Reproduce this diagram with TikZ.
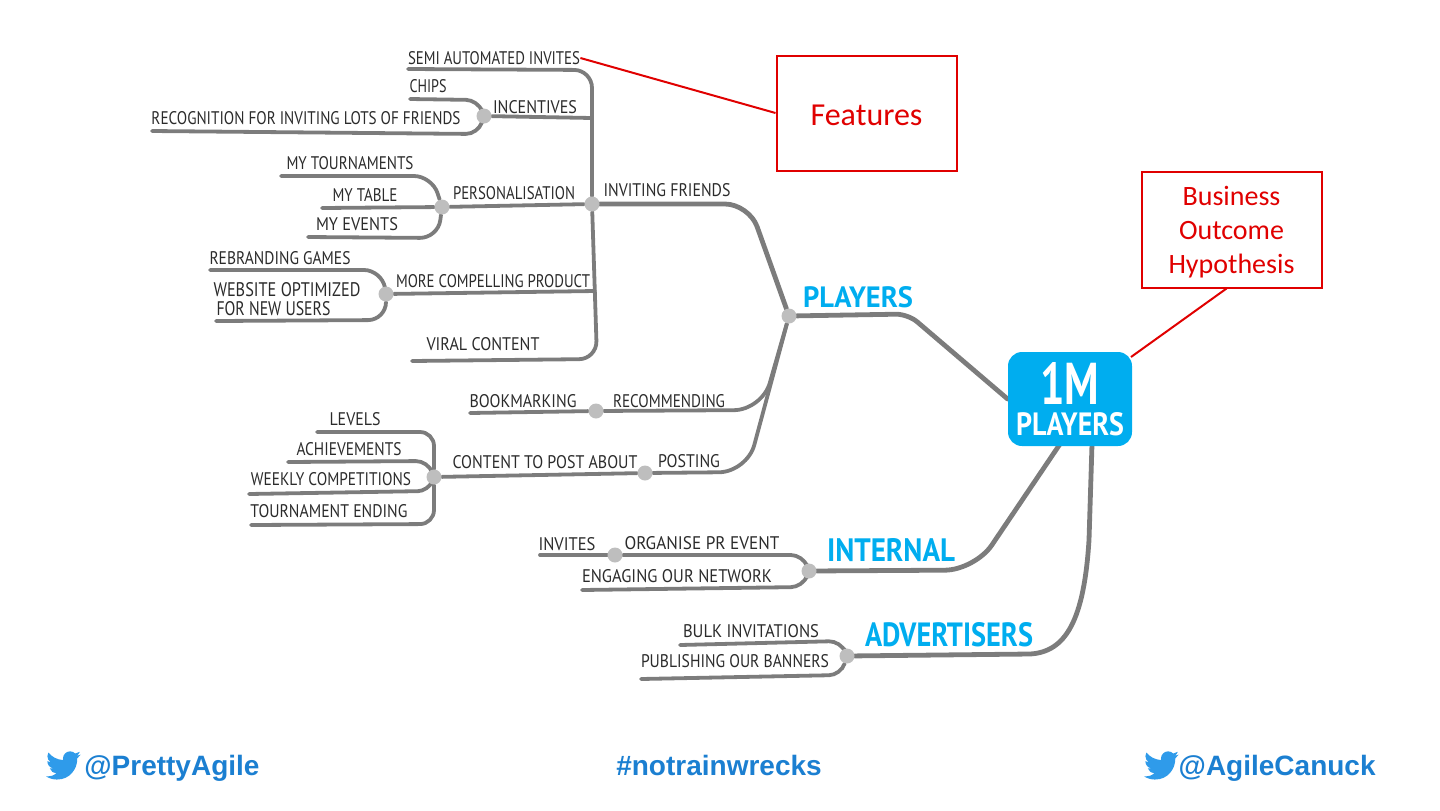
\documentclass[tikz,border=0pt]{standalone}
\usepackage{graphicx}
\usepackage{fontspec}
\usetikzlibrary{backgrounds}
\newfontfamily\handfont{PT Sans}
\newfontfamily\calloutfont{Carlito}
\newfontfamily\footfont{Liberation Sans}
\definecolor{limbgrey}{HTML}{7C7C7C}
\definecolor{dotgrey}{HTML}{BEBEBE}
\definecolor{inkgrey}{HTML}{2B2B2B}
\definecolor{hubblue}{HTML}{00ADEF}
\definecolor{footblue}{HTML}{1B7FD1}
\definecolor{birdblue}{HTML}{2F9BEA}
\definecolor{calloutred}{HTML}{E00000}
% squeeze a text to a given width and height
\newcommand{\hand}[3]{\resizebox{#1pt}{#2pt}{#3}}
\tikzset{
  lbl/.style={inner sep=0pt, text=inkgrey, font=\handfont, align=center},
  toplbl/.style={inner sep=0pt, text=hubblue, font=\handfont\bfseries},
  dot/.style={circle, fill=dotgrey, minimum size=7.5pt, inner sep=0pt},
  limb/.style={draw=limbgrey, line width=1.9pt, line cap=round, rounded corners=9pt},
  mainlimb/.style={limb, line width=2.4pt, rounded corners=12pt},
  hub/.style={fill=hubblue, rounded corners=7pt, minimum width=62pt, minimum height=47pt,
    inner sep=0pt, text=white, align=center, font=\handfont\bfseries\fontsize{7}{8}\selectfont},
  callout/.style={draw=calloutred, line width=1pt, fill=white, minimum width=90pt, inner sep=0pt,
    text=calloutred, align=center, font=\calloutfont},
  calloutline/.style={draw=calloutred, line width=1pt},
  foot/.style={inner sep=0pt, text=footblue, font=\footfont\bfseries\fontsize{14}{17}\selectfont},
  twbird/.pic={
    \fill[birdblue] (23.95,4.57) .. controls (23.1,4.95) and (22.1,5.2) .. (21.13,5.35)
      .. controls (22.1,4.75) and (22.95,3.8) .. (23.29,2.62)
      .. controls (22.34,3.18) and (21.29,3.58) .. (20.16,3.81)
      .. controls (19.3,2.85) and (18.05,2.3) .. (16.6,2.3)
      .. controls (13.9,2.3) and (11.7,4.5) .. (11.7,7.2)
      .. controls (11.7,7.6) and (11.75,7.95) .. (11.83,8.3)
      .. controls (7.69,8.1) and (4.07,6.13) .. (1.64,3.16)
      .. controls (1.2,3.9) and (0.97,4.75) .. (0.97,5.64)
      .. controls (0.97,7.35) and (1.84,8.85) .. (3.16,9.73)
      .. controls (2.35,9.7) and (1.6,9.48) .. (0.93,9.12)
      -- (0.93,9.18)
      .. controls (0.93,11.55) and (2.63,13.55) .. (4.88,14)
      .. controls (4.15,14.2) and (3.4,14.23) .. (2.67,14.09)
      .. controls (3.3,16.05) and (5.13,17.45) .. (7.27,17.5)
      .. controls (5.6,18.82) and (3.5,19.6) .. (1.17,19.6)
      .. controls (0.78,19.6) and (0.39,19.58) .. (0,19.54)
      .. controls (2.19,20.93) and (4.77,21.75) .. (7.56,21.75)
      .. controls (16.6,21.75) and (21.55,14.25) .. (21.55,7.76)
      .. controls (21.55,7.55) and (21.55,7.34) .. (21.54,7.13)
      .. controls (22.5,6.44) and (23.33,5.57) .. cycle;
  }
}
\begin{document}
\begin{tikzpicture}[x=0.5pt, y=-0.5pt]
  \useasboundingbox (0,0) rectangle (1440,810);

  % Hub and the branch dots
  \node[hub] (hub) at (1070,399) {\hand{29.5}{21}{1M}\\[3pt]\hand{54}{11.5}{PLAYERS}};
  \foreach \nm/\xp/\yp in {dotPlayers/789/316, dotInvite/592/204, dotIncent/484/116, dotPerson/442/207,
      dotProduct/386/294, dotRecom/596/411, dotPost/645/473, dotContent/434/477,
      dotInternal/809/571, dotEvent/615/555, dotAdvert/847/656} {
    \node[dot] (\nm) at (\xp,\yp) {};
  }

  % Free ends of the branches
  \foreach \nm/\xp/\yp in {endSemi/408/69, endViral/412/361, endChips/410/99, endFriends/152/131,
      endTourn/281/176, endTable/322/208, endEvents/308/237, endRebrand/210/270, endWebsite/216/321,
      endBook/470/413, endLevels/317/432, endAchieve/288/462, endWeekly/249/494, endEnding/251/525,
      endInvites/540/555, endEngage/582/590, endBulk/680/645, endPublish/641/679,
      hubInternal/1060/444, hubAdvert/1092/444, hubCorner/1131/357} {
    \coordinate (\nm) at (\xp,\yp);
  }

  % Texts of the map
  \foreach \nm/\xp/\yp/\wdt/\txt in {
      lblSemi/494/58/86/SEMI AUTOMATED INVITES,
      lblChips/428/86/18.5/CHIPS,
      lblIncent/535/107/42/INCENTIVES,
      lblFriends/306/118/154.5/RECOGNITION FOR INVITING LOTS OF FRIENDS,
      lblTourn/350/163/63.5/MY TOURNAMENTS,
      lblTable/365/195/32.5/MY TABLE,
      lblEvents/357/224/41/MY EVENTS,
      lblPerson/514/193/61/PERSONALISATION,
      lblInvite/667/190/63.5/INVITING FRIENDS,
      lblRebrand/280/258/70.5/REBRANDING GAMES,
      lblProduct/493/281/97/MORE COMPELLING PRODUCT,
      lblViral/483/344/56.5/VIRAL CONTENT,
      lblBook/523/401/53.5/BOOKMARKING,
      lblRecom/669/401/56/RECOMMENDING,
      lblLevels/355/419/25.5/LEVELS,
      lblAchieve/349/449/52.5/ACHIEVEMENTS,
      lblWeekly/331/479/80/WEEKLY COMPETITIONS,
      lblEnding/329/511/78.5/TOURNAMENT ENDING,
      lblContent/545/462/92.5/CONTENT TO POST ABOUT,
      lblPost/689/461/31/POSTING,
      lblInvites/567/544/28.5/INVITES,
      lblEvent/702/543/77.5/ORGANISE PR EVENT,
      lblEngage/677/576/95/ENGAGING OUR NETWORK,
      lblBulk/751/631/68/BULK INVITATIONS,
      lblPublish/735/661/94/PUBLISHING OUR BANNERS} {
    \node[lbl] (\nm) at (\xp,\yp) {\hand{\wdt}{6.5}{\txt}};
  }
  \node[lbl, align=left] (lblWebsite) at (287,299) {\hand{73.5}{7}{WEBSITE OPTIMIZED}\\[-2.5pt]\hspace{1.5pt}\hand{57}{7}{FOR NEW USERS}};

  % Blue headings
  \node[toplbl] (lblPlayers) at (858,297) {\hand{55}{10.5}{PLAYERS}};
  \node[toplbl] (lblInternal) at (891,550) {\hand{64}{11.5}{INTERNAL}};
  \node[toplbl] (lblAdvert) at (949,635) {\hand{84}{12}{ADVERTISERS}};

  % Branches go behind the dots
  \begin{pgfonlayer}{background}
    \draw[mainlimb, rounded corners=6pt] (hub.west) -- (908,314) -- (dotPlayers);
    \draw[mainlimb, rounded corners=15pt] (hubInternal) -- (975,570) -- (dotInternal);
    \draw[mainlimb, sharp corners] (hubAdvert) -- (1089,540) .. controls (1084,620) and (1066,652) .. (1030,654) -- (dotAdvert);
    \draw[mainlimb] (dotPlayers) -- (749,204) -- (dotInvite);
    \draw[limb, rounded corners=14pt] (dotPlayers) -- (762,410) -- (dotRecom);
    \draw[limb, rounded corners=14pt] (dotPlayers) -- (747,472) -- (dotPost);
    \draw[limb] (dotRecom) -- (endBook);
    \draw[limb] (dotPost) -- (dotContent);
    % the upright stem
    \draw[limb] (endSemi) -- (592,70) -- (dotInvite);
    \draw[limb] (dotInvite) -- (597,359) -- (endViral);
    \draw[limb] (dotIncent) -- (592,118);
    \draw[limb] (dotPerson) -- (dotInvite);
    \draw[limb] (dotProduct) -- (595,291);
    % leaves
    \draw[limb, rounded corners=6pt] (endChips) -- (478,100) -- (dotIncent);
    \draw[limb, rounded corners=6pt] (endFriends) -- (478,134) -- (dotIncent);
    \draw[limb] (endTourn) -- (432,176) -- (dotPerson);
    \draw[limb] (endTable) -- (dotPerson);
    \draw[limb] (endEvents) -- (438,238) -- (dotPerson);
    \draw[limb] (endRebrand) -- (382,270) -- (dotProduct);
    \draw[limb] (endWebsite) -- (386,320) -- (dotProduct);
    \draw[limb, rounded corners=7pt] (endLevels) -- (434,432) -- (dotContent);
    \draw[limb, rounded corners=6pt] (endAchieve) -- (428,461) -- (dotContent);
    \draw[limb, rounded corners=5pt] (endWeekly) -- (428,491) -- (dotContent);
    \draw[limb, rounded corners=7pt] (endEnding) -- (434,524) -- (dotContent);
    \draw[limb] (endInvites) -- (dotEvent);
    \draw[limb, rounded corners=6pt] (dotEvent) -- (803,555) -- (dotInternal);
    \draw[limb, rounded corners=6pt] (endEngage) -- (803,587) -- (dotInternal);
    \draw[limb, rounded corners=6pt] (endBulk) -- (841,641) -- (dotAdvert);
    \draw[limb, rounded corners=6pt] (endPublish) -- (841,675) -- (dotAdvert);
  \end{pgfonlayer}

  % Red callouts
  \node[callout, minimum height=57.5pt, font=\calloutfont\fontsize{16}{19}\selectfont] (features) at (866.5,113)
    {\raisebox{-1pt}[\height][\depth]{Features}};
  \node[callout, minimum height=58pt, font=\calloutfont\fontsize{14}{17}\selectfont] (hypothesis) at (1231.5,229.5)
    {\raisebox{-1.5pt}[\height][\depth]{Business}\\\raisebox{-1.5pt}[\height][\depth]{Outcome}\\\raisebox{-1.5pt}[\height][\depth]{Hypothesis}};
  \draw[calloutline] (features.west) -- (lblSemi.east);
  \draw[calloutline] ([xshift=-2.5pt]hypothesis.south) -- (hubCorner);

  % Footer
  \pic (birdLeft) at (46,748) [scale=1.45] {twbird};
  \pic (birdRight) at (1144,748) [scale=1.45] {twbird};
  \node[foot, anchor=base west] (handleLeft) at (84,775) {@PrettyAgile};
  \node[foot, anchor=base] (hashtag) at (719,775) {\#notrainwrecks};
  \node[foot, anchor=base east] (handleRight) at (1376,775) {@AgileCanuck};
\end{tikzpicture}
\end{document}
